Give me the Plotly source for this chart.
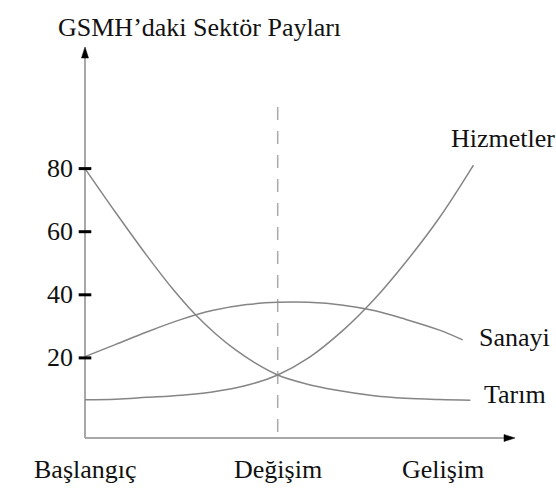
import plotly.graph_objects as go

# ---- data (stage position 0..100, share %) ----
stage_labels = ["Başlangıç", "Değişim", "Gelişim"]
stage_pos = [0, 50, 93]

tarim_x = [0, 8, 16, 23, 28.5, 34, 39, 44, 50, 57, 65, 75, 83, 92, 100]
tarim_y = [80, 66, 52.5, 41.5, 33.9, 27.5, 22.6, 18.5, 14.6, 11.9, 9.8, 8.0, 7.2, 6.8, 6.6]

sanayi_x = [0, 8, 16, 25, 33, 42, 50, 58, 67, 75, 83, 92, 98]
sanayi_y = [20.4, 24.3, 28.2, 32.2, 35.0, 36.9, 37.6, 37.6, 36.7, 35.0, 32.3, 28.8, 25.7]

hizmet_x = [0, 8, 16, 25, 33, 42, 50, 58, 67, 75, 83, 92, 100.8]
hizmet_y = [6.7, 6.9, 7.5, 8.2, 9.2, 11.3, 14.6, 20.0, 28.8, 38.5, 50.0, 64.5, 81.1]

tick_vals = [20, 40, 60, 80]
tick_text = ["20", "40", "60", "80"]

series_names = ["Tarım", "Sanayi", "Hizmetler"]
title_text = "GSMH’daki Sektör Payları"

# ---- geometry (pixels per data unit) ----
W, H = 556, 491
PX_X = 3.854
PX_Y = 3.155
X0_PX = 85      # pixel of x=0
Y0_PX = 421     # pixel of y=0
xr = [-X0_PX / PX_X, (W - X0_PX) / PX_X]
yr = [(Y0_PX - H) / PX_Y, Y0_PX / PX_Y]

def ux(px):
    return (px - X0_PX) / PX_X

def uy(py):
    return (Y0_PX - py) / PX_Y

FONT = "Liberation Serif"
TXT = "#111111"
CURVE = "#858585"
AXIS = "#a8a8a8"

fig = go.Figure()

for xs, ys in [(tarim_x, tarim_y), (sanayi_x, sanayi_y), (hizmet_x, hizmet_y)]:
    fig.add_trace(go.Scatter(x=xs, y=ys, mode="lines",
                             line=dict(color=CURVE, width=1.5, shape="spline", smoothing=1.0),
                             hoverinfo="skip"))

# tick marks on y axis
fig.add_trace(go.Scatter(x=[0] * len(tick_vals), y=tick_vals, mode="markers",
                         marker=dict(symbol="line-ew", size=9,
                                     line=dict(color="black", width=3)),
                         hoverinfo="skip"))

x_axis_y = uy(438)
x_tip = ux(515)
y_tip = uy(47)

shapes = [
    dict(type="line", x0=0, x1=0, y0=x_axis_y, y1=y_tip - 8 / PX_Y,
         line=dict(color=AXIS, width=2), layer="below"),
    dict(type="line", x0=0, x1=x_tip - 8 / PX_X, y0=x_axis_y, y1=x_axis_y,
         line=dict(color=AXIS, width=2), layer="below"),
    dict(type="line", x0=stage_pos[1], x1=stage_pos[1], y0=uy(107), y1=x_axis_y,
         line=dict(color="#aaaaaa", width=1.5, dash="13px,11px"), layer="below"),
]
ah_len, ah_hw = 11, 3.5
shapes.append(dict(type="path",
                   path=f"M {0} {y_tip} L {-ah_hw / PX_X} {y_tip - ah_len / PX_Y} "
                        f"L {ah_hw / PX_X} {y_tip - ah_len / PX_Y} Z",
                   fillcolor="black", line=dict(color="black", width=0.5)))
shapes.append(dict(type="path",
                   path=f"M {x_tip} {x_axis_y} L {x_tip - ah_len / PX_X} {x_axis_y + ah_hw / PX_Y} "
                        f"L {x_tip - ah_len / PX_X} {x_axis_y - ah_hw / PX_Y} Z",
                   fillcolor="black", line=dict(color="black", width=0.5)))

ann = []
fs = 26
for v, t in zip(tick_vals, tick_text):
    ann.append(dict(x=ux(74.5), y=v, text=t, xanchor="right", yanchor="middle",
                    showarrow=False, font=dict(family=FONT, size=fs, color=TXT)))
for p, t in zip(stage_pos, stage_labels):
    ann.append(dict(x=p, y=uy(469.5), text=t, xanchor="center", yanchor="middle",
                    showarrow=False, font=dict(family=FONT, size=fs, color=TXT)))
ann.append(dict(x=ux(482), y=uy(394.5), text=series_names[0], xanchor="left", yanchor="middle",
                showarrow=False, font=dict(family=FONT, size=fs, color=TXT)))
ann.append(dict(x=ux(477), y=uy(337.5), text=series_names[1], xanchor="left", yanchor="middle",
                showarrow=False, font=dict(family=FONT, size=fs, color=TXT)))
ann.append(dict(x=ux(449), y=uy(138), text=series_names[2], xanchor="left", yanchor="middle",
                showarrow=False, font=dict(family=FONT, size=fs, color=TXT)))
ann.append(dict(x=ux(56), y=uy(27.5), text=title_text, xanchor="left", yanchor="middle",
                showarrow=False, font=dict(family=FONT, size=fs, color=TXT)))

fig.update_layout(
    width=W, height=H,
    margin=dict(l=0, r=0, t=0, b=0),
    paper_bgcolor="white", plot_bgcolor="white",
    showlegend=False,
    xaxis=dict(range=xr, visible=False, fixedrange=True),
    yaxis=dict(range=yr, visible=False, fixedrange=True),
    shapes=shapes,
    annotations=ann,
)

fig.write_html("out.html", config={"displayModeBar": False},
               post_script="document.body.style.margin='0';document.body.style.overflow='hidden';")
